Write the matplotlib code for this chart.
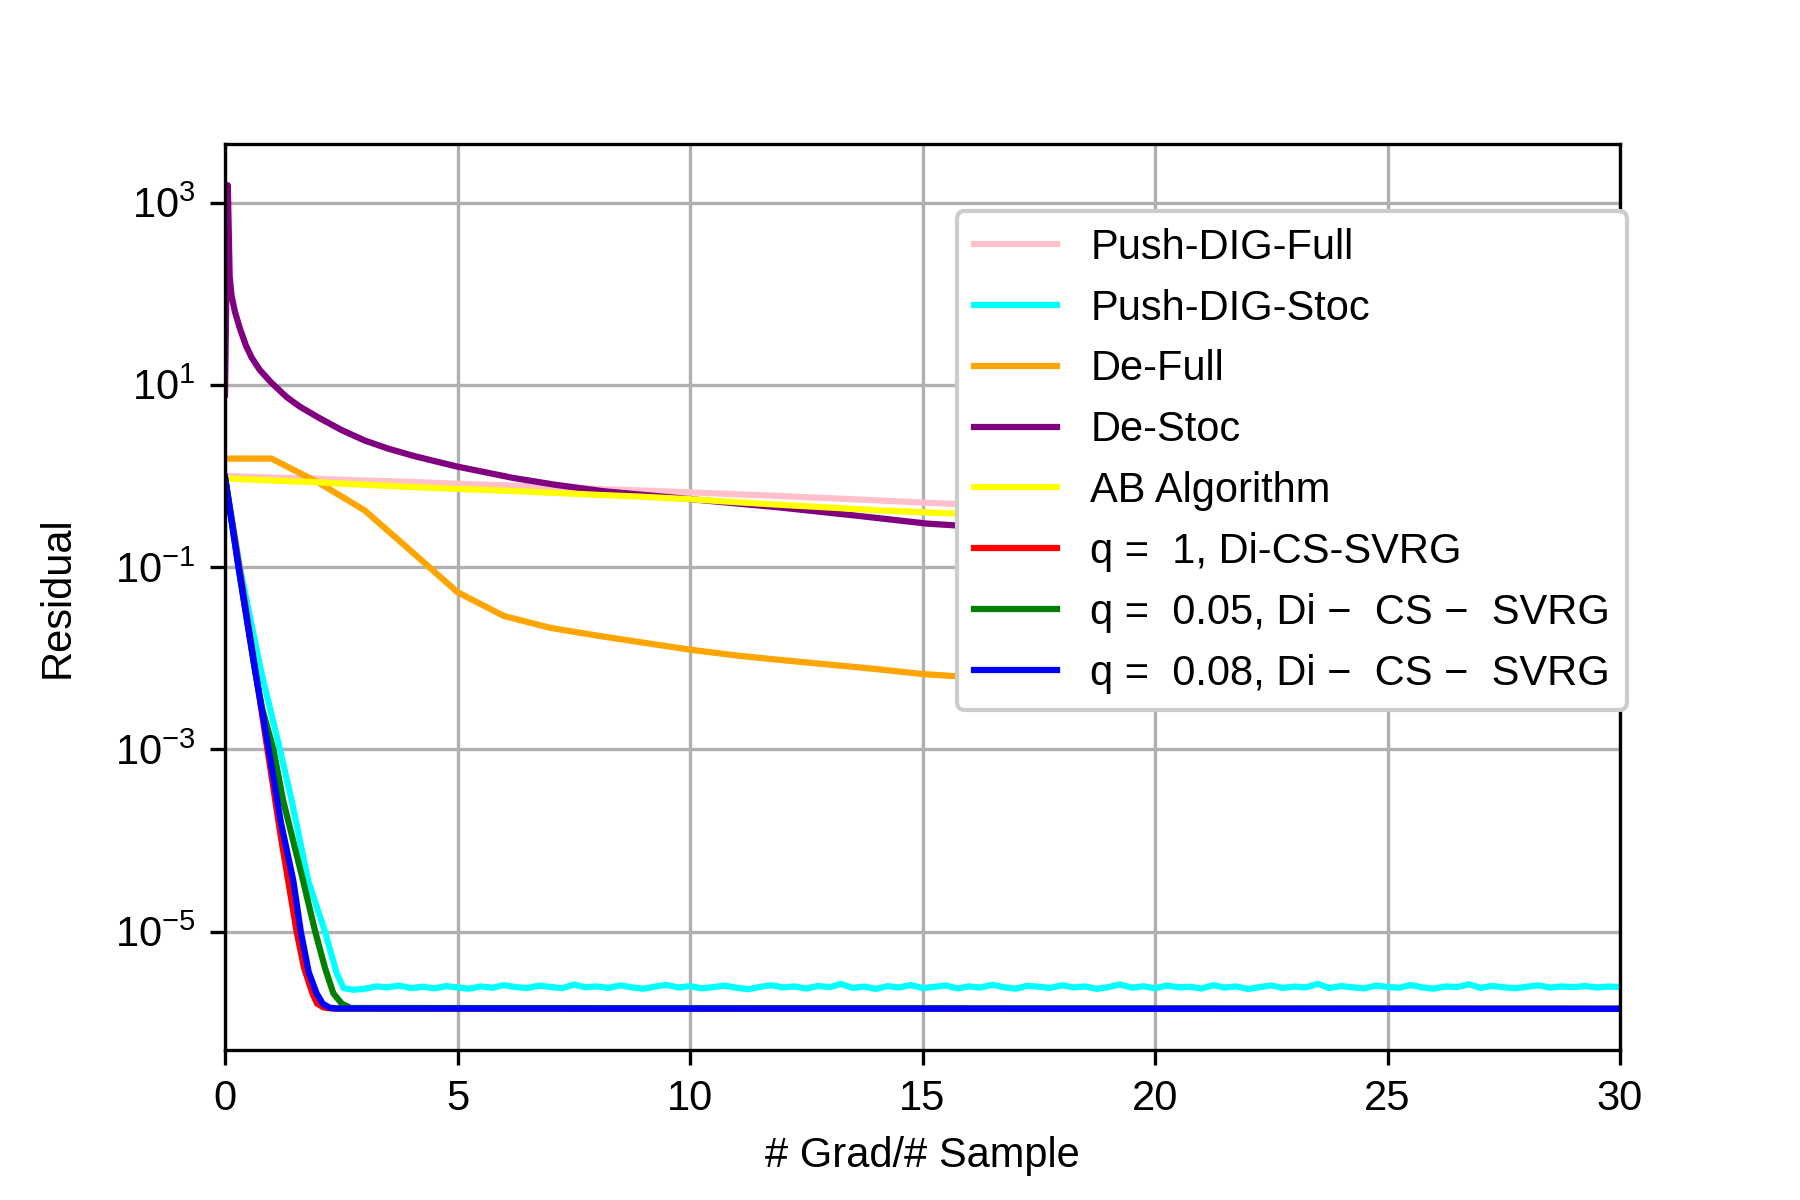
import numpy as np
import matplotlib
matplotlib.use("Agg")
import matplotlib.pyplot as plt
from matplotlib.ticker import NullLocator

plt.rcParams["font.family"] = ["Liberation Sans", "DejaVu Sans"]
plt.rcParams["mathtext.fontset"] = "custom"
plt.rcParams["mathtext.rm"] = "Liberation Sans"
plt.rcParams["mathtext.it"] = "Liberation Sans"
plt.rcParams["mathtext.bf"] = "Liberation Sans:bold"
plt.rcParams["mathtext.default"] = "regular"

# Push-DIG-Full / AB / De-Full : one point per epoch
epochs = list(range(31))
push_full = [1.0, 0.96, 0.93, 0.89, 0.86, 0.82, 0.79, 0.75, 0.72, 0.69, 0.66,
             0.63, 0.60, 0.57, 0.54, 0.51, 0.485, 0.46, 0.44, 0.42, 0.40,
             0.38, 0.36, 0.34, 0.325, 0.31, 0.295, 0.28, 0.265, 0.25, 0.24]
ab_alg = [0.94, 0.89, 0.85, 0.80, 0.755, 0.72, 0.69, 0.655, 0.62, 0.59, 0.555,
          0.515, 0.48, 0.45, 0.42, 0.40, 0.38, 0.36, 0.34, 0.32, 0.30,
          0.285, 0.27, 0.255, 0.24, 0.23, 0.215, 0.205, 0.195, 0.185, 0.175]
de_full = [1.55, 1.55, 0.85, 0.42, 0.15, 0.053, 0.029, 0.0215, 0.0177, 0.0148,
           0.0124, 0.0107, 0.0095, 0.0085, 0.0076, 0.0067, 0.0062, 0.0058,
           0.0054, 0.0051, 0.0048, 0.0046, 0.0044, 0.0042, 0.0040, 0.0038,
           0.0037, 0.0035, 0.0034, 0.0033, 0.0032]

# De-Stoc
de_stoc_x = [0, 0.06, 0.08, 0.1, 0.14, 0.215, 0.32, 0.45, 0.57, 0.75, 1.0,
             1.33, 1.6, 2.0, 2.5, 3.0, 3.5, 4.05, 4.98, 6.2, 7.1, 8.13, 9.78,
             11.94, 13.5, 15.09, 16, 17, 18, 20, 22, 25, 30]
de_stoc = [7.8, 1550, 500, 155, 95, 63, 41.5, 27, 20, 14.5, 10.5,
           7.3, 5.8, 4.4, 3.2, 2.45, 2.0, 1.66, 1.27, 0.95, 0.8, 0.68, 0.57,
           0.45, 0.37, 0.30, 0.28, 0.265, 0.25, 0.22, 0.20, 0.17, 0.14]

# Push-DIG-Stoc: descent then noisy floor
stoc_x = [0, 0.32, 0.77, 1.18, 1.43, 1.79, 2.15, 2.40, 2.55]
stoc_y = [0.96, 0.1, 7.4e-3, 1.0e-3, 2.8e-4, 3.6e-5, 1.0e-5, 3.5e-6, 2.4e-6]
stoc_floor = [2.30, 2.35, 2.50, 2.45, 2.55, 2.40, 2.48, 2.38, 2.52, 2.44,
              2.36, 2.50, 2.42, 2.58, 2.46, 2.40, 2.55, 2.47, 2.39, 2.62,
              2.45, 2.50, 2.41, 2.57, 2.44, 2.36, 2.49, 2.60, 2.43, 2.52,
              2.38, 2.46, 2.55, 2.42, 2.33, 2.47, 2.58, 2.44, 2.50, 2.37,
              2.53, 2.45, 2.66, 2.41, 2.49, 2.35, 2.52, 2.44, 2.59, 2.40,
              2.47, 2.56, 2.38, 2.50, 2.43, 2.61, 2.45, 2.36, 2.54, 2.48,
              2.41, 2.57, 2.44, 2.50, 2.35, 2.46, 2.63, 2.42, 2.51, 2.39,
              2.55, 2.45, 2.48, 2.37, 2.58, 2.43, 2.50, 2.34, 2.46, 2.56,
              2.41, 2.49, 2.44, 2.67, 2.40, 2.52, 2.45, 2.38, 2.55, 2.47,
              2.42, 2.59, 2.44, 2.36, 2.50, 2.46, 2.64, 2.41, 2.53, 2.45,
              2.39, 2.48, 2.57, 2.43, 2.50, 2.46, 2.52, 2.44, 2.49, 2.47]
floor_x = np.linspace(2.75, 30, len(stoc_floor))

# Di-CS-SVRG variants
q1_x = [0, 0.3, 0.6, 0.9, 1.2, 1.36, 1.54, 1.7, 1.88, 1.98, 2.12, 2.3, 30]
q1_y = [0.97, 0.105, 1.1e-2, 1.1e-3, 1.1e-4, 3.6e-5, 1.0e-5, 4.0e-6, 2.1e-6,
        1.62e-6, 1.47e-6, 1.43e-6, 1.42e-6]
q05_x = [0, 0.29, 0.645, 0.8, 1.04, 1.25, 1.68, 1.94, 2.15, 2.33, 2.51, 2.7, 30]
q05_y = [0.97, 0.1, 7.4e-3, 2.8e-3, 1.0e-3, 2.75e-4, 3.6e-5, 1.0e-5, 4.0e-6,
         2.1e-6, 1.62e-6, 1.45e-6, 1.42e-6]
q08_x = [0, 0.29, 0.645, 0.94, 1.2, 1.47, 1.63, 1.8, 1.97, 2.1, 2.25, 2.4, 30]
q08_y = [0.97, 0.1, 7.4e-3, 1.0e-3, 1.6e-4, 3.6e-5, 1.0e-5, 3.6e-6, 2.1e-6,
         1.62e-6, 1.46e-6, 1.43e-6, 1.42e-6]

yticks = [1e-5, 1e-3, 1e-1, 1e1, 1e3]

fig = plt.figure(figsize=(6, 4), dpi=300)
ax = fig.add_axes([0.125, 0.125, 0.775, 0.755])

ax.plot(epochs, push_full, color="pink", label="Push-DIG-Full")
ax.plot(stoc_x + list(floor_x), stoc_y + [v * 1e-6 for v in stoc_floor],
        color="cyan", label="Push-DIG-Stoc")
ax.plot(epochs, de_full, color="orange", label="De-Full")
ax.plot(de_stoc_x, de_stoc, color="purple", label="De-Stoc")
ax.plot(epochs, ab_alg, color="yellow", label="AB Algorithm")
ax.plot(q1_x, q1_y, color="red", label="q =  1, Di-CS-SVRG")
ax.plot(q05_x, q05_y, color="green", label="q =  0.05, Di \u2212  CS \u2212  SVRG")
ax.plot(q08_x, q08_y, color="blue", label="q =  0.08, Di \u2212  CS \u2212  SVRG")

ax.set_yscale("log")
ax.set_yticks(yticks)
ax.yaxis.set_minor_locator(NullLocator())
ax.set_xlim(0, 30)
ax.grid(True)
ax.set_xlabel("# Grad/# Sample")
ax.set_ylabel("Residual", labelpad=9)
ax.legend(loc="upper right", bbox_to_anchor=(1.005, 0.926), borderaxespad=0,
          framealpha=1)

fig.savefig("out.png", dpi=300)
